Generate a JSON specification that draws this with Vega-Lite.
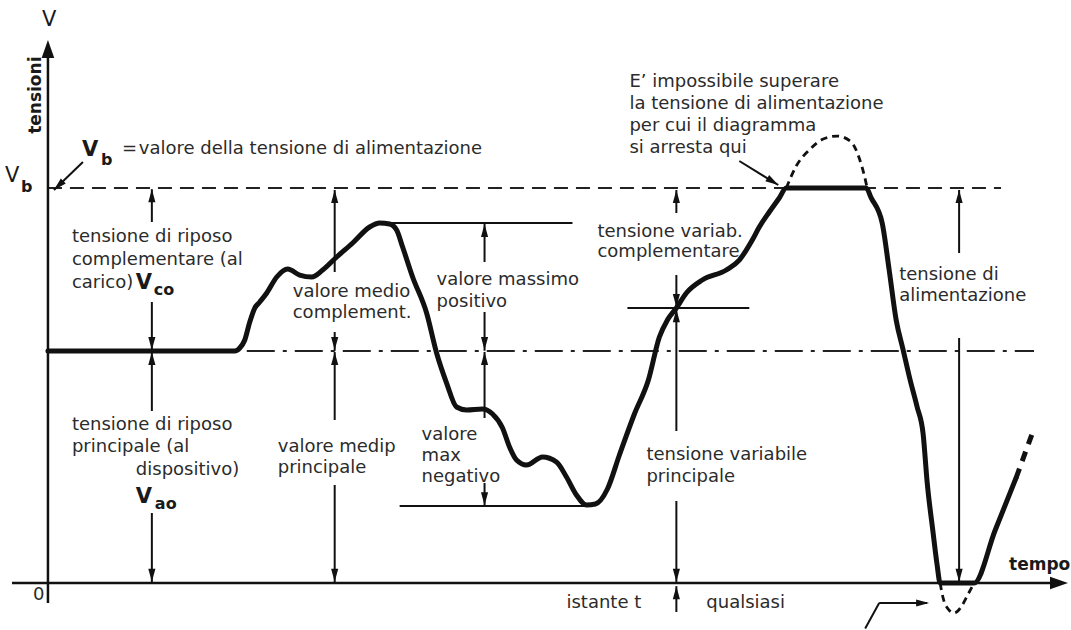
{
  "$schema": "https://vega.github.io/schema/vega-lite/v6.json",
  "width": 1071,
  "height": 630,
  "autosize": {"type": "fit", "contains": "padding"},
  "padding": 0,
  "background": "white",
  "config": {"view": {"stroke": null}},
  "datasets": {
    "wave": [
      {"o": 1, "t": 0, "v": 5.873}, {"o": 2, "t": 18.7, "v": 5.873}, {"o": 3, "t": 19.2, "v": 5.949},
      {"o": 4, "t": 19.7, "v": 6.152}, {"o": 5, "t": 20.2, "v": 6.608}, {"o": 6, "t": 20.7, "v": 6.962},
      {"o": 7, "t": 21.2, "v": 7.114}, {"o": 8, "t": 21.9, "v": 7.342}, {"o": 9, "t": 22.9, "v": 7.747},
      {"o": 10, "t": 24.0, "v": 7.949}, {"o": 11, "t": 25.2, "v": 7.797}, {"o": 12, "t": 26.4, "v": 7.747},
      {"o": 13, "t": 27.5, "v": 7.924}, {"o": 14, "t": 28.9, "v": 8.253}, {"o": 15, "t": 30.5, "v": 8.608},
      {"o": 16, "t": 32.2, "v": 9.013}, {"o": 17, "t": 33.2, "v": 9.114}, {"o": 18, "t": 34.2, "v": 9.089},
      {"o": 19, "t": 34.9, "v": 8.937}, {"o": 20, "t": 35.5, "v": 8.506}, {"o": 21, "t": 36.5, "v": 7.747},
      {"o": 22, "t": 37.9, "v": 6.835}, {"o": 23, "t": 38.9, "v": 5.823}, {"o": 24, "t": 39.9, "v": 5.063},
      {"o": 25, "t": 40.9, "v": 4.456}, {"o": 26, "t": 41.9, "v": 4.38}, {"o": 27, "t": 43.5, "v": 4.405},
      {"o": 28, "t": 44.5, "v": 4.278}, {"o": 29, "t": 45.5, "v": 3.924}, {"o": 30, "t": 46.2, "v": 3.443},
      {"o": 31, "t": 46.9, "v": 3.114}, {"o": 32, "t": 47.9, "v": 2.987}, {"o": 33, "t": 49.5, "v": 3.19},
      {"o": 34, "t": 50.9, "v": 3.063}, {"o": 35, "t": 51.9, "v": 2.684}, {"o": 36, "t": 52.9, "v": 2.228},
      {"o": 37, "t": 53.9, "v": 1.975}, {"o": 38, "t": 54.8, "v": 2.0}, {"o": 39, "t": 56.0, "v": 2.38},
      {"o": 40, "t": 57.2, "v": 3.241}, {"o": 41, "t": 58.7, "v": 4.278}, {"o": 42, "t": 60.1, "v": 5.139},
      {"o": 43, "t": 61.2, "v": 6.228}, {"o": 44, "t": 62.0, "v": 6.658}, {"o": 45, "t": 62.9, "v": 6.962},
      {"o": 46, "t": 63.9, "v": 7.342}, {"o": 47, "t": 65.5, "v": 7.671}, {"o": 48, "t": 67.9, "v": 7.924},
      {"o": 49, "t": 69.2, "v": 8.177}, {"o": 50, "t": 70.5, "v": 8.684}, {"o": 51, "t": 71.2, "v": 9.013},
      {"o": 52, "t": 72.2, "v": 9.392}, {"o": 53, "t": 73.2, "v": 9.747}, {"o": 54, "t": 73.9, "v": 10.0},
      {"o": 55, "t": 81.9, "v": 10.0}, {"o": 56, "t": 82.4, "v": 9.75},
      {"o": 58, "t": 83.5, "v": 9.114}, {"o": 59, "t": 84.2, "v": 7.924}, {"o": 60, "t": 84.9, "v": 6.658},
      {"o": 61, "t": 85.6, "v": 5.899}, {"o": 62, "t": 86.3, "v": 5.139}, {"o": 63, "t": 87.0, "v": 4.456},
      {"o": 64, "t": 87.6, "v": 3.772}, {"o": 65, "t": 88.0, "v": 2.557}, {"o": 66, "t": 88.6, "v": 1.266},
      {"o": 67, "t": 89.0, "v": 0.456}, {"o": 68, "t": 89.3, "v": 0.0}, {"o": 69, "t": 92.7, "v": 0.0},
      {"o": 70, "t": 94.8, "v": 1.33}, {"o": 71, "t": 96.9, "v": 2.658}
    ],
    "waveDashed": [
      {"p": "sopra", "o": 1, "t": 73.9, "v": 10.0}, {"p": "sopra", "o": 2, "t": 74.9, "v": 10.557},
      {"p": "sopra", "o": 3, "t": 76.3, "v": 10.987}, {"p": "sopra", "o": 4, "t": 77.6, "v": 11.241},
      {"p": "sopra", "o": 5, "t": 79.0, "v": 11.316}, {"p": "sopra", "o": 6, "t": 80.4, "v": 11.165},
      {"p": "sopra", "o": 7, "t": 81.2, "v": 10.759}, {"p": "sopra", "o": 8, "t": 81.7, "v": 10.329},
      {"p": "sopra", "o": 9, "t": 82.0, "v": 10.0},
      {"p": "sotto", "o": 1, "t": 89.3, "v": 0.0}, {"p": "sotto", "o": 2, "t": 89.6, "v": -0.38},
      {"p": "sotto", "o": 3, "t": 90.1, "v": -0.658}, {"p": "sotto", "o": 4, "t": 90.7, "v": -0.759},
      {"p": "sotto", "o": 5, "t": 91.4, "v": -0.608}, {"p": "sotto", "o": 6, "t": 92.0, "v": -0.329},
      {"p": "sotto", "o": 7, "t": 92.7, "v": 0.0}
    ],
    "waveTail": [
      {"o": 1, "t": 96.9, "v": 2.658}, {"o": 2, "t": 98.5, "v": 3.772}
    ],
    "vbLine": [{"t": 0, "t2": 95.4, "v": 10.0}],
    "restLine": [{"t": 19.9, "t2": 98.7, "v": 5.873}],
    "axesLines": [
      {"t": -3.6, "v": 0, "t2": 101.0, "v2": 0},
      {"t": 0, "v": -0.506, "t2": 0, "v2": 13.5}
    ],
    "hrules": [
      {"t": 33.2, "t2": 52.5, "v": 9.114},
      {"t": 35.2, "t2": 54.2, "v": 1.95},
      {"t": 58.0, "t2": 70.2, "v": 6.962}
    ],
    "spans": [
      {"t": 10.4, "v": 9.97, "v2": 9.139}, {"t": 10.4, "v": 7.114, "v2": 5.88},
      {"t": 10.4, "v": 5.85, "v2": 4.354}, {"t": 10.4, "v": 1.772, "v2": 0.02},
      {"t": 28.7, "v": 9.95, "v2": 7.873}, {"t": 28.7, "v": 6.354, "v2": 5.88},
      {"t": 28.7, "v": 5.85, "v2": 4.127}, {"t": 28.7, "v": 2.481, "v2": 0.02},
      {"t": 43.7, "v": 9.09, "v2": 8.127}, {"t": 43.7, "v": 6.861, "v2": 5.88},
      {"t": 43.7, "v": 5.85, "v2": 4.177}, {"t": 43.7, "v": 2.532, "v2": 1.96},
      {"t": 62.9, "v": 9.95, "v2": 9.367}, {"t": 62.9, "v": 7.797, "v2": 6.98},
      {"t": 62.9, "v": 6.93, "v2": 3.848}, {"t": 62.9, "v": 2.076, "v2": 0.02},
      {"t": 62.9, "v": -0.08, "v2": -0.734},
      {"t": 91.2, "v": 9.95, "v2": 8.354}, {"t": 91.2, "v": 6.203, "v2": 0.02}
    ],
    "diag": [
      {"t": 3.5, "v": 10.658, "t2": 0.6, "v2": 9.949},
      {"t": 69.2, "v": 10.684, "t2": 73.1, "v2": 10.076},
      {"t": 81.8, "v": -1.15, "t2": 83.2, "v2": -0.506},
      {"t": 83.2, "v": -0.506, "t2": 88.0, "v2": -0.506}
    ],
    "heads": [
      {"dir": "su", "t": 10.4, "v": 9.97}, {"dir": "su", "t": 10.4, "v": 5.85},
      {"dir": "su", "t": 28.7, "v": 9.95}, {"dir": "su", "t": 28.7, "v": 5.85},
      {"dir": "su", "t": 43.7, "v": 9.09}, {"dir": "su", "t": 43.7, "v": 5.85},
      {"dir": "su", "t": 62.9, "v": 9.95}, {"dir": "su", "t": 62.9, "v": 6.93},
      {"dir": "su", "t": 62.9, "v": -0.08}, {"dir": "su", "t": 91.2, "v": 9.95},
      {"dir": "giu", "t": 10.4, "v": 5.9}, {"dir": "giu", "t": 10.4, "v": 0.03},
      {"dir": "giu", "t": 28.7, "v": 5.9}, {"dir": "giu", "t": 28.7, "v": 0.03},
      {"dir": "giu", "t": 43.7, "v": 5.9}, {"dir": "giu", "t": 43.7, "v": 1.97},
      {"dir": "giu", "t": 62.9, "v": 6.99}, {"dir": "giu", "t": 62.9, "v": 0.03},
      {"dir": "giu", "t": 91.2, "v": 0.03},
      {"dir": "destra", "t": 88.2, "v": -0.506},
      {"dir": "giu-sinistra", "t": 0.6, "v": 9.949},
      {"dir": "giu-destra", "t": 73.1, "v": 10.076}
    ],
    "axisHeads": [
      {"dir": "su", "t": 0, "v": 13.75},
      {"dir": "destra", "t": 102.1, "v": 0}
    ],
    "labels": [
      {"t": 7.4, "v": 11.0, "text": "="},
      {"t": 9.1, "v": 11.0, "text": "valore della tensione di alimentazione"},
      {"t": 2.4, "v": 8.759, "text": "tensione di riposo"},
      {"t": 2.4, "v": 8.177, "text": "complementare (al"},
      {"t": 2.4, "v": 7.595, "text": "carico)"},
      {"t": 2.4, "v": 4.0, "text": "tensione di riposo"},
      {"t": 2.4, "v": 3.443, "text": "principale (al"},
      {"t": 8.8, "v": 2.861, "text": "dispositivo)"},
      {"t": 24.5, "v": 7.367, "text": "valore medio"},
      {"t": 24.5, "v": 6.835, "text": "complement."},
      {"t": 23.0, "v": 3.443, "text": "valore medip"},
      {"t": 23.0, "v": 2.911, "text": "principale"},
      {"t": 38.9, "v": 7.671, "text": "valore massimo"},
      {"t": 38.9, "v": 7.114, "text": "positivo"},
      {"t": 37.4, "v": 3.747, "text": "valore"},
      {"t": 37.4, "v": 3.215, "text": "max"},
      {"t": 37.4, "v": 2.684, "text": "negativo"},
      {"t": 55.0, "v": 8.886, "text": "tensione variab."},
      {"t": 55.0, "v": 8.38, "text": "complementare"},
      {"t": 59.9, "v": 3.241, "text": "tensione variabile"},
      {"t": 59.9, "v": 2.684, "text": "principale"},
      {"t": 85.2, "v": 7.797, "text": "tensione di"},
      {"t": 85.2, "v": 7.266, "text": "alimentazione"},
      {"t": 58.2, "v": 12.684, "text": "E’ impossibile superare"},
      {"t": 58.2, "v": 12.127, "text": "la tensione di alimentazione"},
      {"t": 58.2, "v": 11.57, "text": "per cui il diagramma"},
      {"t": 58.2, "v": 11.013, "text": "si arresta qui"},
      {"t": 51.9, "v": -0.506, "text": "istante t"},
      {"t": 65.9, "v": -0.506, "text": "qualsiasi"},
      {"t": -1.5, "v": -0.304, "text": "0"}
    ],
    "plainV": [
      {"t": -0.6, "v": 14.25, "text": "V"},
      {"t": -4.3, "v": 10.304, "text": "V"}
    ],
    "boldV": [
      {"t": 3.4, "v": 10.962, "text": "V"},
      {"t": 8.8, "v": 7.595, "text": "V"},
      {"t": 8.8, "v": 2.177, "text": "V"}
    ],
    "subs": [
      {"t": 5.3, "v": 10.709, "text": "b"},
      {"t": -2.7, "v": 10.025, "text": "b"},
      {"t": 10.6, "v": 7.418, "text": "co"},
      {"t": 10.7, "v": 2.0, "text": "ao"}
    ],
    "axisTitles": [
      {"t": 96.2, "v": 0.456, "text": "tempo"}
    ],
    "vTitle": [
      {"t": -1.2, "v": 12.35, "text": "tensioni"}
    ]
  },
  "encoding": {
    "x": {"field": "t", "type": "quantitative", "scale": {"domain": [-4.8, 102.3], "nice": false, "zero": false}, "axis": null},
    "y": {"field": "v", "type": "quantitative", "scale": {"domain": [-1.19, 14.76], "nice": false, "zero": false}, "axis": null}
  },
  "layer": [
    {
      "data": {"name": "vbLine"},
      "mark": {"type": "rule", "color": "#222", "strokeWidth": 2, "strokeDash": [14, 8]},
      "encoding": {"x2": {"field": "t2"}}
    },
    {
      "data": {"name": "restLine"},
      "mark": {"type": "rule", "color": "#222", "strokeWidth": 2, "strokeDash": [28, 8, 4, 8]},
      "encoding": {"x2": {"field": "t2"}}
    },
    {
      "data": {"name": "axesLines"},
      "mark": {"type": "rule", "color": "#111", "strokeWidth": 2.5},
      "encoding": {"x2": {"field": "t2"}, "y2": {"field": "v2"}}
    },
    {
      "data": {"name": "hrules"},
      "mark": {"type": "rule", "color": "#111", "strokeWidth": 2},
      "encoding": {"x2": {"field": "t2"}}
    },
    {
      "data": {"name": "spans"},
      "mark": {"type": "rule", "color": "#111", "strokeWidth": 2},
      "encoding": {"y2": {"field": "v2"}}
    },
    {
      "data": {"name": "diag"},
      "mark": {"type": "rule", "color": "#111", "strokeWidth": 2},
      "encoding": {"x2": {"field": "t2"}, "y2": {"field": "v2"}}
    },
    {
      "data": {"name": "wave"},
      "mark": {"type": "line", "color": "#111", "strokeWidth": 5, "interpolate": "monotone", "strokeCap": "round", "strokeJoin": "round"},
      "encoding": {"order": {"field": "o", "type": "quantitative"}}
    },
    {
      "data": {"name": "waveDashed"},
      "mark": {"type": "line", "color": "#111", "strokeWidth": 2.8, "interpolate": "monotone", "strokeDash": [7, 5]},
      "encoding": {"detail": {"field": "p", "type": "nominal"}, "order": {"field": "o", "type": "quantitative"}}
    },
    {
      "data": {"name": "waveTail"},
      "mark": {"type": "line", "color": "#111", "strokeWidth": 5, "strokeDash": [10, 8]},
      "encoding": {"order": {"field": "o", "type": "quantitative"}}
    },
    {
      "data": {"name": "heads"},
      "transform": [{"filter": "datum.dir === 'su'"}],
      "mark": {"type": "point", "shape": "M0,0L0.55,2L-0.55,2Z", "size": 169, "filled": true, "color": "#111", "opacity": 1, "angle": 0}
    },
    {
      "data": {"name": "heads"},
      "transform": [{"filter": "datum.dir === 'giu'"}],
      "mark": {"type": "point", "shape": "M0,0L0.55,2L-0.55,2Z", "size": 169, "filled": true, "color": "#111", "opacity": 1, "angle": 180}
    },
    {
      "data": {"name": "heads"},
      "transform": [{"filter": "datum.dir === 'destra'"}],
      "mark": {"type": "point", "shape": "M0,0L0.55,2L-0.55,2Z", "size": 169, "filled": true, "color": "#111", "opacity": 1, "angle": 90}
    },
    {
      "data": {"name": "heads"},
      "transform": [{"filter": "datum.dir === 'giu-sinistra'"}],
      "mark": {"type": "point", "shape": "M0,0L0.55,2L-0.55,2Z", "size": 169, "filled": true, "color": "#111", "opacity": 1, "angle": 226}
    },
    {
      "data": {"name": "heads"},
      "transform": [{"filter": "datum.dir === 'giu-destra'"}],
      "mark": {"type": "point", "shape": "M0,0L0.55,2L-0.55,2Z", "size": 169, "filled": true, "color": "#111", "opacity": 1, "angle": 122}
    },
    {
      "data": {"name": "axisHeads"},
      "transform": [{"filter": "datum.dir === 'su'"}],
      "mark": {"type": "point", "shape": "M0,0L0.7,2L-0.7,2Z", "size": 324, "filled": true, "color": "#111", "opacity": 1, "angle": 0}
    },
    {
      "data": {"name": "axisHeads"},
      "transform": [{"filter": "datum.dir === 'destra'"}],
      "mark": {"type": "point", "shape": "M0,0L0.7,2L-0.7,2Z", "size": 324, "filled": true, "color": "#111", "opacity": 1, "angle": 90}
    },
    {
      "data": {"name": "labels"},
      "mark": {"type": "text", "align": "left", "baseline": "middle", "font": "DejaVu Sans", "fontSize": 18, "color": "#2b2b2b"},
      "encoding": {"text": {"field": "text"}}
    },
    {
      "data": {"name": "plainV"},
      "mark": {"type": "text", "align": "left", "baseline": "middle", "font": "DejaVu Sans", "fontSize": 21, "color": "#1a1a1a"},
      "encoding": {"text": {"field": "text"}}
    },
    {
      "data": {"name": "boldV"},
      "mark": {"type": "text", "align": "left", "baseline": "middle", "font": "DejaVu Sans", "fontSize": 21, "fontWeight": "bold", "color": "#1a1a1a"},
      "encoding": {"text": {"field": "text"}}
    },
    {
      "data": {"name": "subs"},
      "mark": {"type": "text", "align": "left", "baseline": "middle", "font": "DejaVu Sans", "fontSize": 16, "fontWeight": "bold", "color": "#1a1a1a"},
      "encoding": {"text": {"field": "text"}}
    },
    {
      "data": {"name": "axisTitles"},
      "mark": {"type": "text", "align": "left", "baseline": "middle", "font": "DejaVu Sans", "fontSize": 17, "fontWeight": "bold", "color": "#1a1a1a"},
      "encoding": {"text": {"field": "text"}}
    },
    {
      "data": {"name": "vTitle"},
      "mark": {"type": "text", "align": "center", "baseline": "middle", "angle": 270, "font": "DejaVu Sans", "fontSize": 17, "fontWeight": "bold", "color": "#1a1a1a"},
      "encoding": {"text": {"field": "text"}}
    }
  ]
}
